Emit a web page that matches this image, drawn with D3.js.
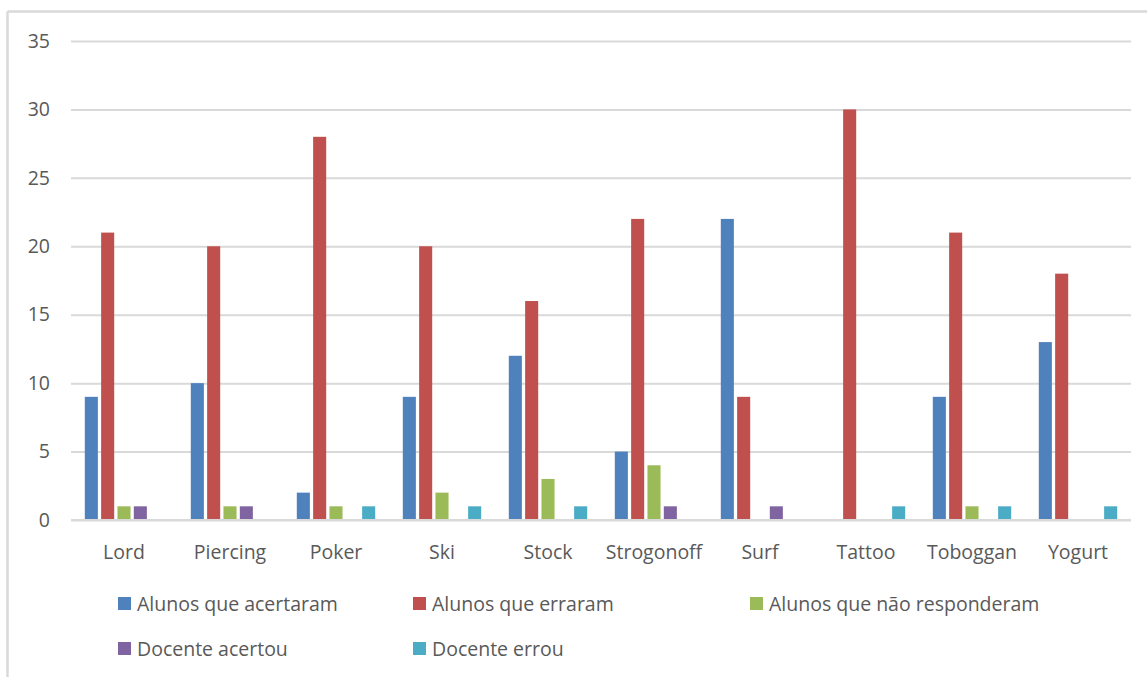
<!DOCTYPE html>
<html>
<head>
<meta charset="utf-8">
<script src="https://cdn.jsdelivr.net/npm/d3@7"></script>
<style>
  html, body { margin: 0; padding: 0; background: #fff; }
  svg { display: block; }
  text { font-family: "Open Sans", "Liberation Sans", sans-serif; fill: #595959; }
</style>
</head>
<body>
<svg id="chart" width="1147" height="677"></svg>
<script>
const categories = ["Lord", "Piercing", "Poker", "Ski", "Stock", "Strogonoff", "Surf", "Tattoo", "Toboggan", "Yogurt"];
const seriesNames = ["Alunos que acertaram", "Alunos que erraram", "Alunos que não responderam", "Docente acertou", "Docente errou"];
const alunosAcertaram = [9, 10, 2, 9, 12, 5, 22, 0, 9, 13];
const alunosErraram = [21, 20, 28, 20, 16, 22, 9, 30, 21, 18];
const alunosNaoResponderam = [1, 1, 1, 2, 3, 4, 0, 0, 1, 0];
const docenteAcertou = [1, 1, 0, 0, 0, 1, 1, 0, 0, 0];
const docenteErrou = [0, 0, 1, 1, 1, 0, 0, 1, 1, 1];
const yTicks = [0, 5, 10, 15, 20, 25, 30, 35];
const colors = ["#4F81BD", "#C0504D", "#9BBB59", "#8064A2", "#4BACC6"];

const seriesValues = [alunosAcertaram, alunosErraram, alunosNaoResponderam, docenteAcertou, docenteErrou];
const FONT = "'Open Sans', 'Liberation Sans', sans-serif";

const svg = d3.select("#chart");

// chart border (top and left visible)
svg.append("line").attr("x1", 7.5).attr("x2", 1147).attr("y1", 11.5).attr("y2", 11.5)
  .attr("stroke", "#d9d9d9").attr("stroke-width", 2.5);
svg.append("line").attr("x1", 7.5).attr("x2", 7.5).attr("y1", 11.5).attr("y2", 677)
  .attr("stroke", "#d9d9d9").attr("stroke-width", 2.5);

const plotLeft = 71, plotRight = 1131;
const y = d3.scaleLinear().domain([0, 35]).range([520, 41]);
const x0 = d3.scaleBand().domain(categories).range([plotLeft, plotRight]).padding(0);
const bw0 = x0.bandwidth();
const x1 = d3.scaleBand().domain(d3.range(seriesNames.length))
  .range([bw0 / 2 - 39.2, bw0 / 2 + 39.2]).paddingInner(0.2).paddingOuter(0);

// gridlines
const yAxis = d3.axisLeft(y).tickValues(yTicks).tickSize(-(plotRight - plotLeft)).tickPadding(21).tickFormat(d3.format("d"));
const gy = svg.append("g").attr("transform", `translate(${plotLeft},0)`).call(yAxis);
gy.select(".domain").remove();
gy.selectAll(".tick line").attr("stroke", "#d9d9d9").attr("stroke-width", 2);
gy.selectAll(".tick text").attr("font-size", 19.5).attr("fill", "#595959")
  .style("font-family", FONT);

// bars
const groups = svg.append("g").selectAll("g").data(categories).join("g")
  .attr("transform", d => `translate(${x0(d)},0)`);
groups.selectAll("rect")
  .data((c, i) => seriesValues.map((vals, s) => ({ s, v: vals[i] })))
  .join("rect")
  .attr("x", d => x1(d.s))
  .attr("width", x1.bandwidth())
  .attr("y", d => y(d.v))
  .attr("height", d => y(0) - y(d.v))
  .attr("fill", d => colors[d.s]);

// x axis labels
const xAxis = d3.axisBottom(x0).tickSize(0).tickPadding(25);
const gx = svg.append("g").attr("transform", `translate(0,${y(0)})`).call(xAxis);
gx.select(".domain").remove();
gx.selectAll(".tick text").attr("font-size", 19.5).attr("fill", "#595959")
  .style("font-family", FONT);

// baseline redraw on top of bars
svg.append("line").attr("x1", plotLeft).attr("x2", plotRight).attr("y1", y(0)).attr("y2", y(0))
  .attr("stroke", "#d9d9d9").attr("stroke-width", 2);

// legend
const legendPos = [[118, 604], [413, 604], [750, 604], [118, 649], [413, 649]];
const lg = svg.append("g").selectAll("g").data(seriesNames).join("g")
  .attr("transform", (d, i) => `translate(${legendPos[i][0]},${legendPos[i][1]})`);
lg.append("rect").attr("x", 0).attr("y", -7).attr("width", 13).attr("height", 13)
  .attr("fill", (d, i) => colors[i]);
lg.append("text").attr("x", 19).attr("y", 0).attr("dy", "0.35em").attr("font-size", 19.5)
  .style("font-family", FONT)
  .text(d => d);
</script>
</body>
</html>
